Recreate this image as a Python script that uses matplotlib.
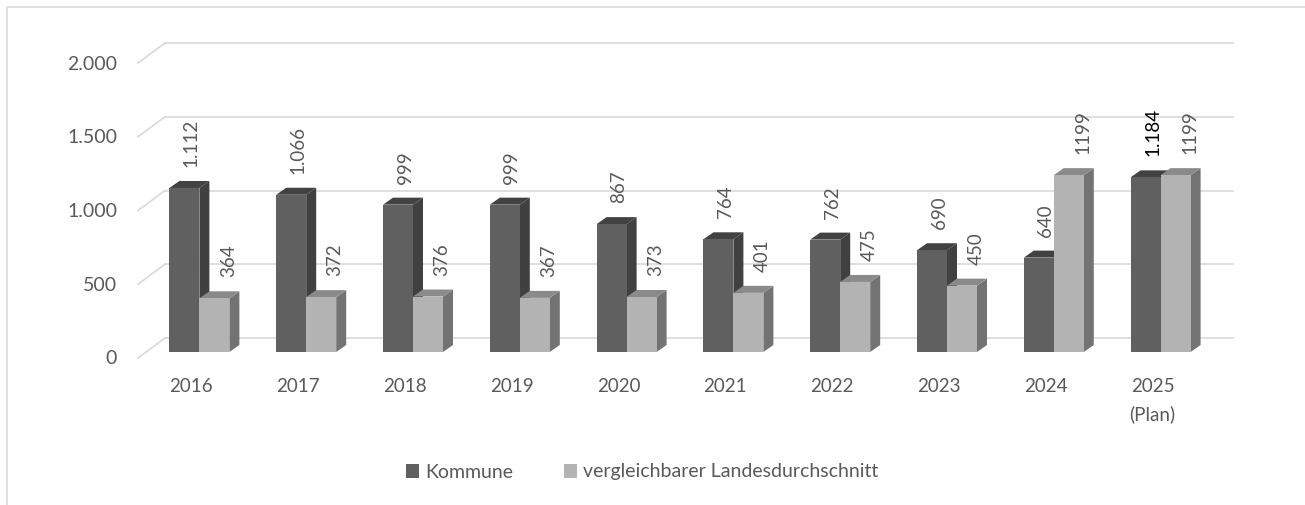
import matplotlib
matplotlib.use('Agg')
from matplotlib import pyplot as plt
from matplotlib.patches import Polygon, Patch
from matplotlib.lines import Line2D

plt.rcParams['font.family'] = ['Lato', 'DejaVu Sans']

# Daten
jahre = ['2016', '2017', '2018', '2019', '2020', '2021', '2022', '2023', '2024', '2025\n(Plan)']
kommune = [1112, 1066, 999, 999, 867, 764, 762, 690, 640, 1184]
landesdurchschnitt = [364, 372, 376, 367, 373, 401, 475, 450, 1199, 1199]
kommune_labels = ['1.112', '1.066', '999', '999', '867', '764', '762', '690', '640', '1.184']
land_labels = ['364', '372', '376', '367', '373', '401', '475', '450', '1199', '1199']
y_ticks = [0, 500, 1000, 1500, 2000]
y_tick_labels = ['0', '500', '1.000', '1.500', '2.000']
serien = ['Kommune', 'vergleichbarer Landesdurchschnitt']

# Farben (Vorderseite, Seite, Deckel)
farben_kommune = ('#606060', '#404040', '#424242')
farben_land = ('#b3b3b3', '#737373', '#8a8a8a')
text_farbe = '#595959'
gitter_farbe = '#d9d9d9'

W, H = 1305, 505
fig = plt.figure(figsize=(W / 100, H / 100), dpi=100)
ax = fig.add_axes([146 / W, (H - 352) / H, 1068 / W, 295 / H])
ax.set_xlim(-0.5, len(jahre) - 0.5)
ax.set_ylim(0, 2000)
ax.axis('off')

# Pixel -> Dateneinheiten
bbox = ax.get_window_extent()
ppx = bbox.width / (len(jahre))
ppy = bbox.height / 2000.0


def px(dx):
    return dx / ppx


def py(dy):
    return dy / ppy


breite = px(30)
tiefe_x, tiefe_y = px(10), py(7)

# Rahmen
fig.add_artist(Line2D([6.5 / W, 6.5 / W, 1], [0, 1 - 6.5 / H, 1 - 6.5 / H],
                      transform=fig.transFigure, color=gitter_farbe, lw=1.2))

# Rückwand-Gitterlinien und Bodenlinien
x0, x1 = -0.5, len(jahre) - 0.5
for v, lab in zip(y_ticks, y_tick_labels):
    ax.plot([x0 + px(19), x1 + px(19)], [v + py(14), v + py(14)],
            color=gitter_farbe, lw=1.2, clip_on=False, zorder=1)
    ax.plot([x0 - px(8), x0 + px(19)], [v - py(6), v + py(14)],
            color=gitter_farbe, lw=1.2, clip_on=False, zorder=1)
    ax.text(x0 - px(29), v - py(7), lab, ha='right', va='center',
            fontsize=14, color=text_farbe)


def balken(x, h, farben, z):
    front, seite, deckel = farben
    ax.add_patch(Polygon([(x + breite, 0), (x + breite + tiefe_x, tiefe_y),
                          (x + breite + tiefe_x, h + tiefe_y), (x + breite, h)],
                         closed=True, fc=seite, ec='none', zorder=z, clip_on=False))
    ax.add_patch(Polygon([(x, h), (x + breite, h), (x + breite + tiefe_x, h + tiefe_y),
                          (x + tiefe_x, h + tiefe_y)],
                         closed=True, fc=deckel, ec='none', zorder=z, clip_on=False))
    ax.bar(x, h, width=breite, align='edge', color=front, zorder=z, clip_on=False)


for i in range(len(jahre)):
    z = 3 + i * 2
    balken(i - breite, kommune[i], farben_kommune, z)
    balken(i, landesdurchschnitt[i], farben_land, z + 1)

    farbe_k = 'black' if i == len(jahre) - 1 else text_farbe
    ax.text(i - breite / 2 + px(7), kommune[i] + tiefe_y + py(14), kommune_labels[i],
            rotation=90, ha='center', va='bottom', fontsize=13.5, color=farbe_k, zorder=30)
    ax.text(i + breite / 2 + px(14), landesdurchschnitt[i] + tiefe_y + py(14), land_labels[i],
            rotation=90, ha='center', va='bottom', fontsize=13.5, color=text_farbe, zorder=30)

    ax.text(i - px(8), -py(26), jahre[i], ha='center', va='top', fontsize=13.5,
            color=text_farbe, linespacing=1.7)

# Legende
handles = [Patch(fc=farben_kommune[0], ec='none'), Patch(fc=farben_land[0], ec='none')]
fig.legend(handles, serien, loc='center', bbox_to_anchor=(642 / W, 1 - 472 / H),
           ncol=2, frameon=False, fontsize=14, labelcolor=text_farbe,
           handlelength=0.7, handleheight=0.7, handletextpad=0.3, columnspacing=2.6)

fig.savefig('out.png', dpi=100)
